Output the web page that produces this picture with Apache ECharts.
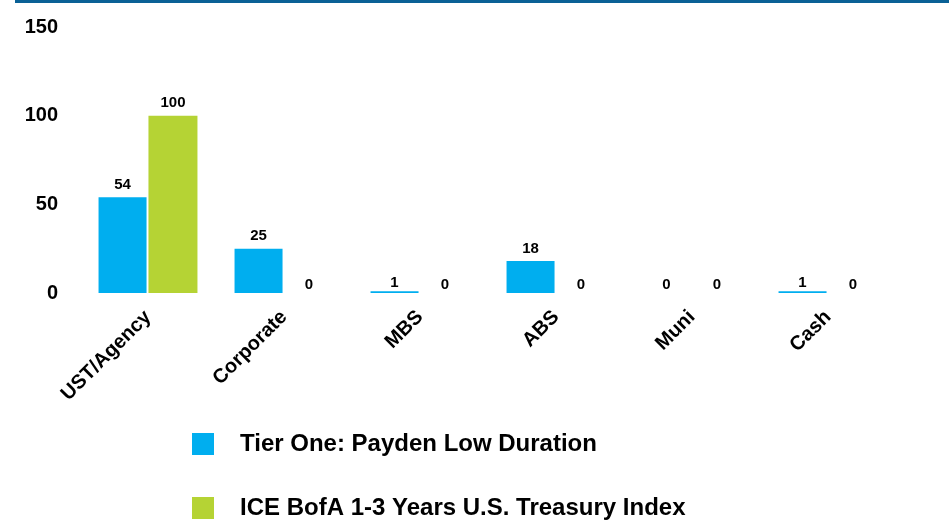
<!DOCTYPE html>
<html>
<head>
<meta charset="utf-8">
<script src="https://cdn.jsdelivr.net/npm/echarts@6/dist/echarts.min.js"></script>
<style>
html, body { margin: 0; padding: 0; background: #fff; }
#chart { width: 949px; height: 524px; }
</style>
</head>
<body>
<div id="chart"></div>
<script>
var categories = ['UST/Agency', 'Corporate', 'MBS', 'ABS', 'Muni', 'Cash'];
var seriesNames = ['Tier One: Payden Low Duration', 'ICE BofA 1-3 Years U.S. Treasury Index'];
var payden = [54, 25, 1, 18, 0, 1];
var ice = [100, 0, 0, 0, 0, 0];
var yTicks = [0, 50, 100, 150];

var font = '"Liberation Sans", Arial, sans-serif';
var chart = echarts.init(document.getElementById('chart'));

var labelStyle = {
	show: true,
	position: 'top',
	distance: 5,
	color: '#000',
	fontWeight: 'bold',
	fontSize: 15,
	fontFamily: font
};

// tiny bars get their labels a little closer to the baseline
function withLabels(values) {
	return values.map(function(v) {
		return { value: v, label: { distance: v < 2 ? 1 : 5 } };
	});
}

var legendText = { color: '#000', fontWeight: 'bold', fontSize: 24, fontFamily: font, padding: [0, 0, 0, 21] };

chart.setOption({
	animation: false,
	textStyle: { fontFamily: font },
	graphic: [{
		type: 'rect',
		shape: { x: 15, y: 0, width: 934, height: 3 },
		style: { fill: '#0A6196' }
	}],
	grid: { left: 80, right: 53, top: 27, bottom: 231 },
	legend: [
		{
			left: 187, top: 427, itemWidth: 22, itemHeight: 22, icon: 'rect',
			textStyle: legendText, data: [seriesNames[0]]
		},
		{
			left: 187, top: 491, itemWidth: 22, itemHeight: 22, icon: 'rect',
			textStyle: legendText, data: [seriesNames[1]]
		}
	],
	xAxis: {
		type: 'category',
		data: categories,
		axisLine: { show: false },
		axisTick: { show: false },
		axisLabel: {
			interval: 0,
			rotate: 45,
			margin: 21,
			color: '#000',
			fontWeight: 'bold',
			fontSize: 20,
			fontFamily: font
		}
	},
	yAxis: {
		type: 'value',
		min: yTicks[0],
		max: yTicks[yTicks.length - 1],
		interval: 50,
		splitLine: { show: false },
		axisLine: { show: false },
		axisTick: { show: false },
		axisLabel: {
			margin: 22,
			color: '#000',
			fontWeight: 'bold',
			fontSize: 20,
			fontFamily: font
		}
	},
	series: [
		{
			name: seriesNames[0],
			type: 'bar',
			data: withLabels(payden),
			barWidth: 48,
			barGap: '4%',
			itemStyle: { color: '#00AEEF' },
			label: labelStyle
		},
		{
			name: seriesNames[1],
			type: 'bar',
			data: withLabels(ice),
			barWidth: 49,
			itemStyle: { color: '#B5D334' },
			label: labelStyle
		}
	]
});
</script>
</body>
</html>
